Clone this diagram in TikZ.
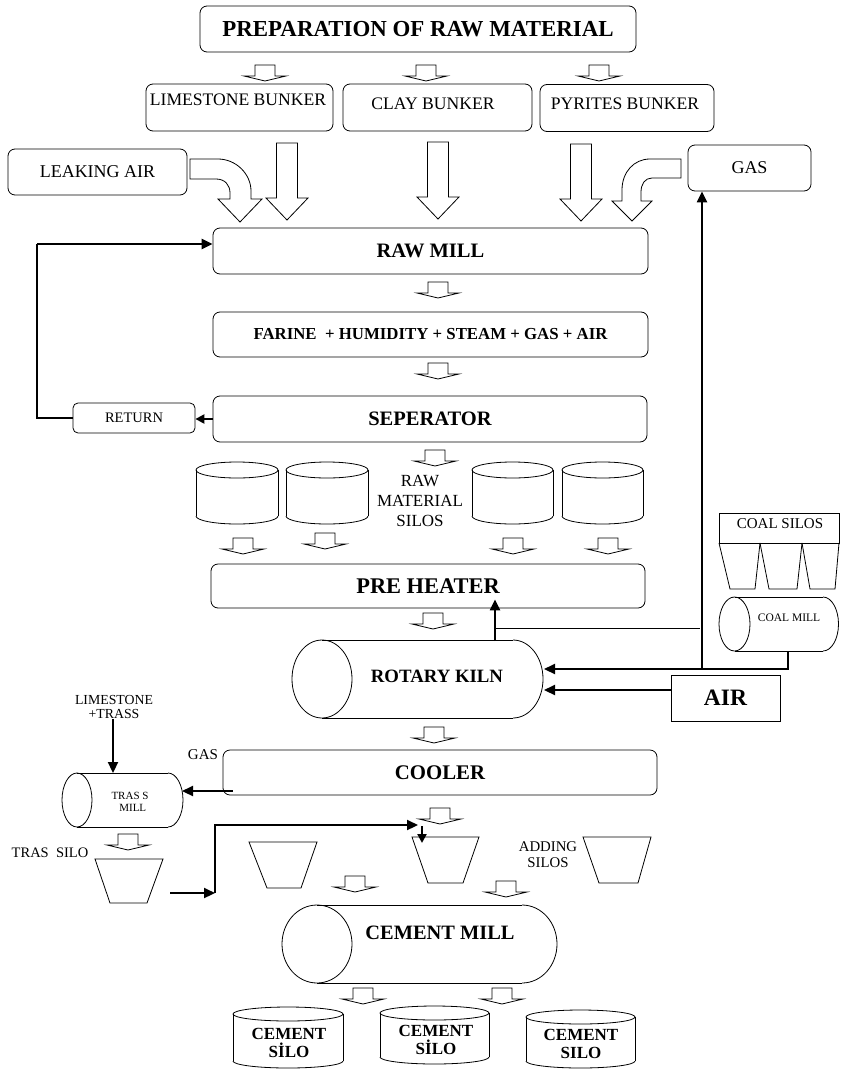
\documentclass[tikz,border=0pt]{standalone}
\usepackage{fontspec}
\setmainfont{Liberation Serif}
\usetikzlibrary{arrows.meta,calc}

\tikzset{
  shp/.style={line width=0.8pt},
  rbox/.style={draw, rounded corners=7pt, line width=0.8pt, inner sep=0pt},
  sbox/.style={draw, line width=0.8pt, inner sep=0pt},
  lbl/.style={inner sep=0pt, align=center},
  flow/.style={line width=2.2pt, -{Triangle[length=11pt,width=10pt]}},
  harrow/.pic={\draw[shp] (-10,0) -- (10,0) -- (10,11) -- (21,11) -- (0,16) -- (-21,11) -- (-10,11) -- cycle;},
  barrow/.pic={\draw[shp] (-10.5,0) -- (10.5,0) -- (10.5,55) -- (21,55) -- (0,77) -- (-21,55) -- (-10.5,55) -- cycle;},
}

\newcommand\hcylshape[5]{%
  \draw[shp] (#1,#2) ellipse [x radius=#3, y radius=#4];
  \draw[shp] (#1,#2-#4) -- (#5,#2-#4);
  \draw[shp] (#1,#2+#4) -- (#5,#2+#4);
  \begin{scope}
    \clip (#5,#2-#4-3) rectangle (#5+#3+3,#2+#4+3);
    \draw[shp] (#5,#2) ellipse [x radius=#3, y radius=#4];
  \end{scope}}

\newcommand\vcylshape[5]{%
  \draw[shp] ({(#1+#2)/2},#3) ellipse [x radius={(#2-#1)/2}, y radius=#5];
  \draw[shp] (#1,#3) -- (#1,#4);
  \draw[shp] (#2,#3) -- (#2,#4);
  \begin{scope}
    \clip (#1-3,#4) rectangle (#2+3,#4+#5+3);
    \draw[shp] ({(#1+#2)/2},#4) ellipse [x radius={(#2-#1)/2}, y radius=#5];
  \end{scope}}

\begin{document}
\begin{tikzpicture}[x=1pt,y=-1pt]
\useasboundingbox (0,0) rectangle (841,1070);

% ---------- top ----------
\node[rbox, minimum width=436pt, minimum height=46pt, font={\bfseries\fontsize{22.9}{26}\selectfont}] (prep) at (418,29) {PREPARATION OF RAW MATERIAL};
\pic at (265,65) {harrow};
\pic at (426,65) {harrow};
\pic at (599,65) {harrow};

\node[rbox, minimum width=187pt, minimum height=47pt] (limeb) at (239.5,107.5) {};
\node[lbl, font={\fontsize{17.6}{20}\selectfont}] (limet) at (238,100) {LIMESTONE BUNKER};
\node[rbox, minimum width=189pt, minimum height=47pt] (clayb) at (437.5,107.5) {};
\node[lbl, font={\fontsize{17.6}{20}\selectfont}] (clayt) at (433,104) {CLAY BUNKER};
\node[rbox, minimum width=174pt, minimum height=47pt] (pyrb) at (627,108) {};
\node[lbl, font={\fontsize{17.6}{20}\selectfont}] (pyrt) at (625,104) {PYRITES BUNKER};

\node[rbox, minimum width=179pt, minimum height=46pt, font={\fontsize{18}{20}\selectfont}] (leak) at (97.5,172) {LEAKING AIR};
\node[rbox, minimum width=123pt, minimum height=46pt, font={\fontsize{18}{20}\selectfont}] (gas) at (749.5,168) {GAS};

% curved hollow arrows
\draw[shp] (190,159) -- (218,159) .. controls (236,159) and (251,174) .. (251,191) -- (251,199)
  -- (262,199) -- (240,222) -- (218,199) -- (230,199) -- (230,193)
  .. controls (230,185) and (225,179) .. (216,179) -- (190,179) -- cycle;
\draw[shp] (681,159) -- (650,159) .. controls (634,159) and (622,172) .. (622,190) -- (622,201)
  -- (612,201) -- (632,221) -- (652,201) -- (641,201) -- (641,192)
  .. controls (641,184) and (645,178) .. (652,178) -- (681,178) -- cycle;
% straight hollow arrows
\pic at (287,143) {barrow};
\pic at (438,142) {barrow};
\pic at (581,144) {barrow};

% ---------- raw mill chain ----------
\node[rbox, minimum width=435pt, minimum height=46pt, font={\bfseries\fontsize{20.5}{24}\selectfont}] (rawmill) at (430.5,251) {RAW MILL};
\pic at (438,282) {harrow};
\node[rbox, minimum width=435pt, minimum height=45pt, font={\bfseries\fontsize{16.8}{20}\selectfont}] (farine) at (430.5,334.5) {FARINE\ \ + HUMIDITY + STEAM + GAS + AIR};
\pic at (438,363) {harrow};
\node[rbox, minimum width=434pt, minimum height=46pt, font={\bfseries\fontsize{20.5}{24}\selectfont}] (sep) at (430,419) {SEPERATOR};
\node[rbox, rounded corners=5pt, minimum width=122pt, minimum height=30pt, font={\fontsize{14.5}{17}\selectfont}] (return) at (134,418) {RETURN};

\coordinate (retc) at (37,418);
\coordinate (rmin) at ($(rawmill.west)+(0,-7)$);
\draw[line width=1.2pt] (return.west) -- (retc) -- (retc |- rmin);
\draw[flow] (retc |- rmin) -- (rmin);
\draw[flow, -{Triangle[length=9pt,width=9pt]}] (sep.west) -- (sep.west -| return.east);

% ---------- raw material silos ----------
\pic at (435,450) {harrow};
\vcylshape{196}{278}{470}{516}{8}
\vcylshape{286}{368}{470}{516}{8}
\vcylshape{472}{553}{470}{516}{8}
\vcylshape{562}{643}{470}{516}{8}
\node[lbl, font={\fontsize{17}{20}\selectfont}] (rmsilos) at (420,501) {RAW\\[0pt]MATERIAL\\[0pt]SILOS};
\pic at (243,538) {harrow};
\pic at (325,533) {harrow};
\pic at (513,538) {harrow};
\pic at (608,538) {harrow};

\node[rbox, minimum width=434pt, minimum height=44pt, font={\bfseries\fontsize{22.4}{26}\selectfont}] (preheater) at (428,586) {PRE HEATER};
\pic at (433,613) {harrow};

% ---------- rotary kiln ----------
\hcylshape{322}{679}{30}{39}{513}
\node[lbl, font={\bfseries\fontsize{18.8}{22}\selectfont}] (kiln) at (437,676) {ROTARY KILN};

% ---------- coal ----------
\draw[shp] (719,513) rectangle (839,543);
\node[lbl, font={\fontsize{15}{18}\selectfont}] (coalsilos) at (780,524) {COAL SILOS};
\draw[shp] (719,543) -- (730,589) -- (755,589) -- (760,543);
\draw[shp] (760,543) -- (769,589) -- (797,589) -- (802,543);
\draw[shp] (802,543) -- (810,589) -- (835,589) -- (839,543);
\hcylshape{734.5}{624}{15.5}{27}{823}
\node[lbl, font={\fontsize{11.5}{14}\selectfont}] (coalmill) at (789,618) {COAL MILL};

\node[sbox, minimum width=109pt, minimum height=46pt, font={\bfseries\fontsize{23.5}{26}\selectfont}] (air) at (725.5,698) {AIR};

% connectors right side
\coordinate (gasfoot) at (702,669);
\draw[flow] (gasfoot) -- (gasfoot |- gas.south);
\coordinate (kup) at (495,641);
\draw[flow, shorten >=-9pt] (kup) -- (kup |- preheater.south);
\coordinate (thinl) at (495,628);
\draw[line width=1pt] (thinl) -- ($(thinl -| gasfoot)+(-2,0)$);
\coordinate (cmb) at (788,651);
\coordinate (kin1) at (544,669);
\draw[flow] (cmb) |- (kin1);
\coordinate (kin2) at (544,690);
\draw[flow] ([yshift=8pt]air.west) -- (kin2);

\pic at (434,727) {harrow};

% ---------- cooler & trass ----------
\node[rbox, minimum width=434pt, minimum height=45pt, font={\bfseries\fontsize{20.8}{24}\selectfont}] (cooler) at (440,772.5) {COOLER};
\node[lbl, font={\fontsize{15}{18}\selectfont}] (gaslbl) at (203,755) {GAS};
\node[lbl, font={\fontsize{13.8}{16}\selectfont}] (lt) at (114,707) {LIMESTONE\\[-2pt]+TRASS};

\hcylshape{77}{800}{15}{27}{168}
\node[lbl, font={\fontsize{11}{12}\selectfont}] (trassmill) at (130,802) {TRAS S\\[-0.5pt]\ \ MILL};
\coordinate (tmtop) at (113,773);
\draw[flow] (lt.south -| tmtop) -- (tmtop);
\coordinate (gasout) at ($(cooler.west)+(10,18.5)$);
\coordinate (tmr) at (182,791);
\draw[flow] (gasout) -- (tmr);

\pic at (128,834) {harrow};
\node[lbl, font={\fontsize{14.5}{17}\selectfont}] (trassilolbl) at (50,853) {TRAS\ \ SILO};
\draw[shp] (95,859) -- (163,859) -- (147,903) -- (110,903) -- cycle;

\coordinate (tsr) at (170,893);
\coordinate (jn) at (215,893);
\coordinate (jt) at (418,825);
\draw[flow] (tsr) -- (jn);
\draw[flow] (jn) |- (jt);
\coordinate (dn1) at (422,826);
\coordinate (dn2) at (422,843);
\draw[flow, -{Triangle[length=9pt,width=9pt]}] (dn1) -- (dn2);

% adding silos
\pic at (440,808) {harrow};
\draw[shp] (249,842) -- (317,842) -- (301,888) -- (267,888) -- cycle;
\draw[shp] (412,837) -- (479,837) -- (463,883) -- (428,883) -- cycle;
\draw[shp] (583,837) -- (651,837) -- (638,883) -- (599,883) -- cycle;
\node[lbl, font={\fontsize{14.8}{17}\selectfont}] (addlbl) at (548,855) {ADDING\\[-1pt]SILOS};
\pic at (355,876) {harrow};
\pic at (506,881) {harrow};

% ---------- cement mill & silos ----------
\hcylshape{317}{944}{35}{39}{522}
\node[lbl, font={\bfseries\fontsize{20.4}{24}\selectfont}] (cmill) at (440,933) {CEMENT MILL};
\pic at (363,988) {harrow};
\pic at (502,988) {harrow};

\vcylshape{233}{343}{1014}{1061}{7}
\vcylshape{380}{489}{1013}{1057}{7}
\vcylshape{526}{635}{1017}{1061}{7}
\node[lbl, font={\bfseries\fontsize{17}{18.5}\selectfont}] (cs1) at (289,1043) {CEMENT\\SİLO};
\node[lbl, font={\bfseries\fontsize{17}{18.5}\selectfont}] (cs2) at (436,1040) {CEMENT\\SİLO};
\node[lbl, font={\bfseries\fontsize{17}{18.5}\selectfont}] (cs3) at (581,1044) {CEMENT\\SILO};
\end{tikzpicture}
\end{document}
